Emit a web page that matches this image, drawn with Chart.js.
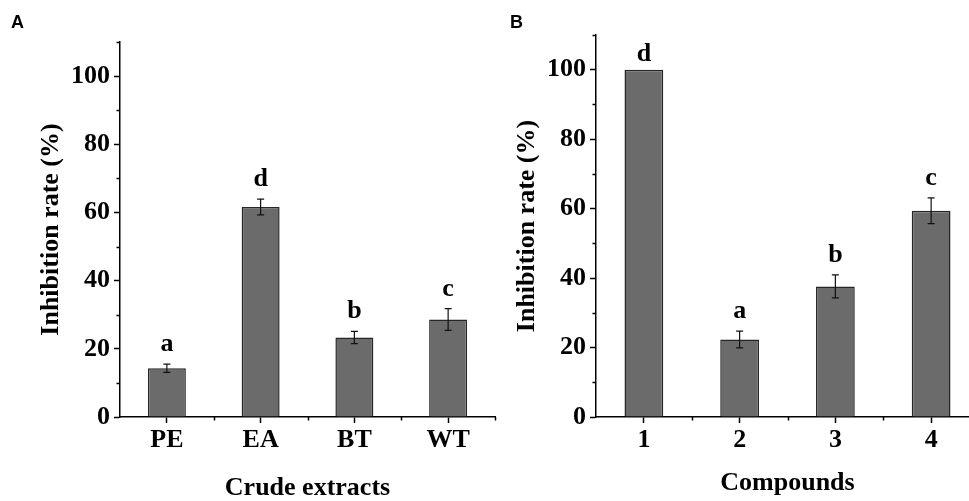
<!DOCTYPE html>
<html>
<head>
<meta charset="utf-8">
<script src="https://cdn.jsdelivr.net/npm/chart.js@4/dist/chart.umd.min.js"></script>
<style>
  html, body { margin: 0; padding: 0; background: #fff; width: 969px; height: 501px; overflow: hidden; }
  #wrap { position: relative; width: 969px; height: 501px; overflow: hidden; }
  canvas { position: absolute; top: 0; }
  .panel { position: absolute; font: bold 18px "Liberation Sans", Arial, sans-serif; line-height: 18px; color: #000; }
</style>
</head>
<body>
<div id="wrap">
  <canvas id="chart-a" width="500" height="501" style="left:0"></canvas>
  <canvas id="chart-b" width="499" height="501" style="left:480px"></canvas>
  <div class="panel" style="left:11px; top:13px">A</div>
  <div class="panel" style="left:510px; top:13px">B</div>
</div>
<script>
// Panel A data
const crudeLabels = ['PE', 'EA', 'BT', 'WT'];
const crudeValues = [14.3, 61.6, 23.3, 28.6];
const crudeErrors = [1.2, 2.3, 1.8, 3.2];
const crudeLetters = ['a', 'd', 'b', 'c'];

// Panel B data
const compoundLabels = ['1', '2', '3', '4'];
const compoundValues = [100, 22.3, 37.6, 59.4];
const compoundErrors = [0, 2.4, 3.3, 3.7];
const compoundLetters = ['d', 'a', 'b', 'c'];

// y axis ticks
const yMajorTicks = [0, 20, 40, 60, 80, 100];
const yMinorTicks = [10, 30, 50, 70, 90, 110];

const serif = '"Liberation Serif", "Times New Roman", serif';

// error bars, significance letters, minor ticks
const extrasPlugin = {
  id: 'extras',
  afterDatasetsDraw(chart, args, opts) {
    const ctx = chart.ctx;
    const xs = chart.scales.x, ys = chart.scales.y;
    const meta = chart.getDatasetMeta(0);
    ctx.save();
    ctx.strokeStyle = '#111';
    ctx.lineWidth = 1.2;
    opts.values.forEach((v, i) => {
      const x = meta.data[i].x;
      const e = opts.errors[i];
      const yTop = ys.getPixelForValue(v + e);
      const yBot = ys.getPixelForValue(v - e);
      if (e > 0) {
        ctx.beginPath();
        ctx.moveTo(x, yTop); ctx.lineTo(x, yBot);
        ctx.moveTo(x - 3.5, yTop); ctx.lineTo(x + 3.5, yTop);
        ctx.moveTo(x - 3.5, yBot); ctx.lineTo(x + 3.5, yBot);
        ctx.stroke();
      }
      ctx.fillStyle = '#000';
      ctx.font = 'bold 26px ' + serif;
      ctx.textAlign = 'center';
      ctx.textBaseline = 'alphabetic';
      ctx.fillText(opts.letters[i], x, yTop - (e > 0 ? 13 : 9));
    });

    // minor ticks
    ctx.strokeStyle = '#000';
    ctx.lineWidth = 1.5;
    ctx.beginPath();
    yMinorTicks.forEach(v => {
      const y = Math.round(ys.getPixelForValue(v)) + 0.5;
      ctx.moveTo(xs.left - 3.5, y); ctx.lineTo(xs.left, y);
    });
    for (let i = 0; i < opts.values.length; i++) {
      const x = Math.round(xs.getPixelForValue(i + 0.5)) + 0.5;
      ctx.moveTo(x, ys.bottom); ctx.lineTo(x, ys.bottom + 3.5);
    }
    ctx.stroke();
    ctx.restore();
  }
};

function makeChart(id, labels, values, errors, letters, xTitle, cfg) {
  const ctx = document.getElementById(id).getContext('2d');
  return new Chart(ctx, {
    type: 'bar',
    data: {
      labels: labels,
      datasets: [{
        data: values,
        backgroundColor: '#6b6b6b',
        borderColor: '#262626',
        borderWidth: 1.5,
        barPercentage: 0.405,
        categoryPercentage: 1
      }]
    },
    options: {
      responsive: false,
      animation: false,
      devicePixelRatio: 1,
      layout: { padding: { left: 0, right: cfg.right, top: cfg.top, bottom: 0 } },
      plugins: {
        legend: { display: false },
        tooltip: { enabled: false },
        extras: { values: values, errors: errors, letters: letters }
      },
      scales: {
        x: {
          offset: true,
          grid: { display: true, offset: false, drawOnChartArea: false, drawTicks: true, tickLength: 6, color: '#000', tickWidth: 1.5 },
          border: { display: true, color: '#000', width: 1.5 },
          ticks: { color: '#000', padding: 2, font: { family: serif, size: 26, weight: 'bold' }, maxRotation: 0 },
          title: { display: true, text: xTitle, color: '#000', font: { family: serif, size: 26, weight: 'bold', lineHeight: 1 }, padding: { top: 0, bottom: cfg.xTitlePad } },
          afterFit(scale) { scale.height = 84; }
        },
        y: {
          min: 0,
          max: 110,
          afterBuildTicks(scale) { scale.ticks = yMajorTicks.map(v => ({ value: v })); },
          grid: { display: true, drawOnChartArea: false, drawTicks: true, tickLength: 6, color: '#000', tickWidth: 1.5 },
          border: { display: true, color: '#000', width: 1.5 },
          ticks: { color: '#000', padding: 4, font: { family: serif, size: 26, weight: 'bold' } },
          title: { display: true, text: 'Inhibition rate (%)', color: '#000', font: { family: serif, size: 26, weight: 'bold', lineHeight: 1 }, padding: { top: cfg.yTitlePad, bottom: 0 } },
          afterFit(scale) { scale.width = cfg.yWidth; }
        }
      }
    },
    plugins: [extrasPlugin]
  });
}

makeChart('chart-a', crudeLabels, crudeValues, crudeErrors, crudeLetters, 'Crude extracts',
  { top: 42, right: 5, yWidth: 120, yTitlePad: 38, xTitlePad: 0 });
makeChart('chart-b', compoundLabels, compoundValues, compoundErrors, compoundLetters, 'Compounds',
  { top: 35, right: 0, yWidth: 116, yTitlePad: 34, xTitlePad: 5 });
</script>
</body>
</html>
